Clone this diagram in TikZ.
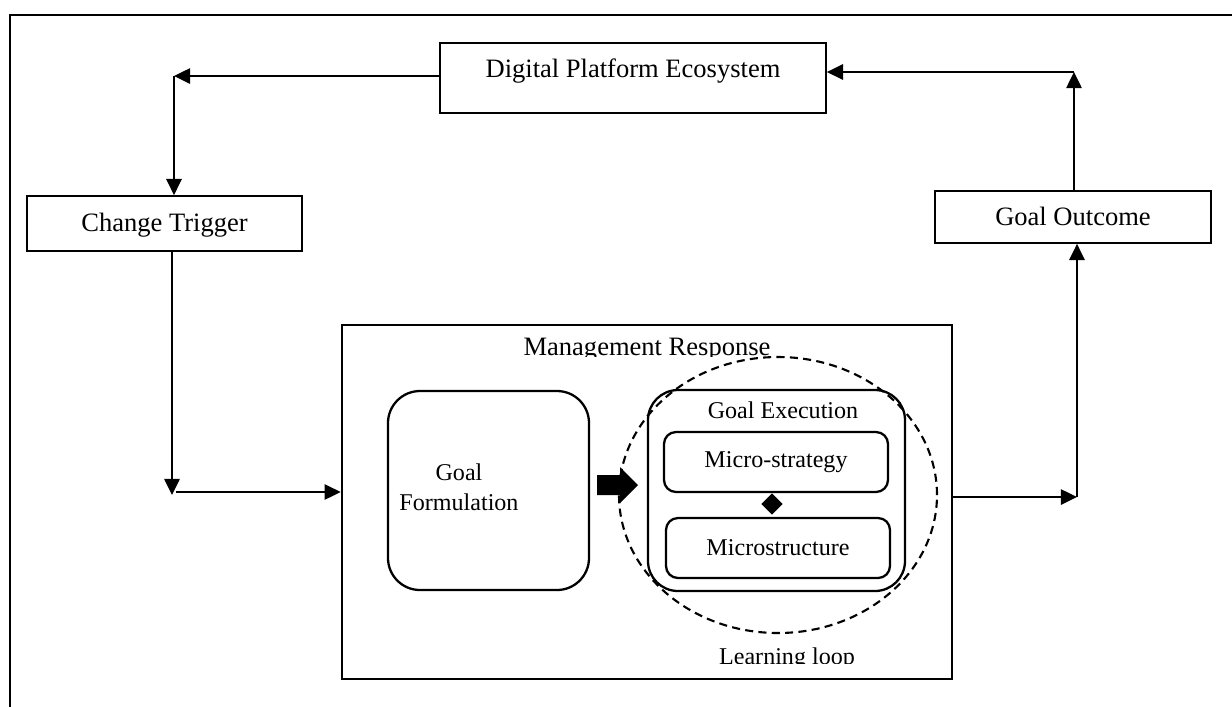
\documentclass[tikz,border=0pt]{standalone}
\usepackage{fontspec}
\setmainfont{Liberation Serif}
\usepackage{tikz}
\usetikzlibrary{arrows.meta, shapes.geometric}
\tikzset{>={Triangle[length=4.6pt,width=4.4pt]}}
\tikzset{
    bigtext/.style={font=\fontsize{7.55}{9}\selectfont},
    smalltext/.style={font=\fontsize{6.85}{8.6}\selectfont},
    box/.style={draw, line width=0.5pt, inner sep=0pt, bigtext},
    roundbox/.style={draw, line width=0.65pt, inner sep=0pt, smalltext},
    link/.style={->, line width=0.45pt},
}

\begin{document}
\begin{tikzpicture}[]
   \useasboundingbox (0,0) rectangle (12.32,-7.06);
   \draw[line width=0.75pt] (0.1,-0.15) rectangle (12.6,-7.6);

   \node[box, minimum width=3.86cm, text height=0.34cm, text depth=0.36cm] (dpe) at (6.33,-0.78) {Digital Platform Ecosystem};
   \node[box, minimum width=2.75cm, text height=0.35cm, text depth=0.20cm] (ct) at (1.645,-2.235) {Change Trigger};
   \node[box, minimum width=2.76cm, text height=0.34cm, text depth=0.18cm] (go) at (10.73,-2.17) {Goal Outcome};

   % Management Response
   \node[draw, line width=0.75pt, inner sep=0pt, minimum width=6.10cm, minimum height=3.54cm] (mr) at (6.47,-5.02) {};
   \begin{scope}
    \clip (mr.north west) rectangle (9.52,-3.565);
    \node[bigtext, anchor=base] (mrlabel) at (6.47,-3.555) {Management Response};
   \end{scope}

   \node[roundbox, rounded corners=0.32cm, minimum width=2.01cm, minimum height=1.99cm] (gf) at (4.885,-4.905) {};
   \node[smalltext, align=center] (gftext) at (4.59,-4.87) {Goal\\Formulation};
   \fill (5.97,-4.75) -- (6.20,-4.75) -- (6.20,-4.67) -- (6.38,-4.85) -- (6.20,-5.03) -- (6.20,-4.95) -- (5.97,-4.95) -- cycle;

   % Goal Execution
   \node[roundbox, rounded corners=0.30cm, minimum width=2.57cm, minimum height=2.01cm] (ge) at (7.765,-4.905) {};
   \node[smalltext, anchor=base] (gelabel) at (7.83,-4.18) {Goal Execution};
   \node[roundbox, rounded corners=0.12cm, minimum width=2.24cm, minimum height=0.60cm] (ms) at (7.76,-4.62) {Micro-strategy};
   \node[roundbox, rounded corners=0.12cm, minimum width=2.24cm, minimum height=0.60cm] (mst) at (7.78,-5.48) {Microstructure};
   \node[diamond, fill=black, inner sep=0pt, minimum size=0.22cm] (tie) at (7.72,-5.04) {};

   % Learning loop
   \node[ellipse, draw, line width=0.6pt, dash pattern=on 2.3pt off 1.5pt, minimum width=3.18cm, minimum height=2.76cm] (loop) at (7.78,-4.95) {};
   \begin{scope}
    \clip (6.9,-6.3) rectangle (8.9,-6.635);
    \node[smalltext, anchor=base] (looplabel) at (7.87,-6.645) {Learning loop};
   \end{scope}

   \coordinate (tl) at (1.74,-0.76);
   \coordinate (bl) at (1.72,-4.95);
   \coordinate (ml) at (1.76,-4.92);
   \coordinate (br) at (10.77,-4.97);
   \coordinate (tr) at (10.74,-0.72);
   \draw[link] (dpe.west |- tl) -- (tl);
   \draw[link] (tl) -- (tl |- ct.north);
   \draw[link] (ct.south -| bl) -- (bl);
   \draw[link] (ml) -- (ml -| mr.west);
   \draw[link] (br -| mr.east) -- (br);
   \draw[link] (br) -- (br |- go.south);
   \draw[link] (go.north -| tr) -- (tr);
   \draw[link] (tr) -- (tr -| dpe.east);
\end{tikzpicture}
\end{document}
